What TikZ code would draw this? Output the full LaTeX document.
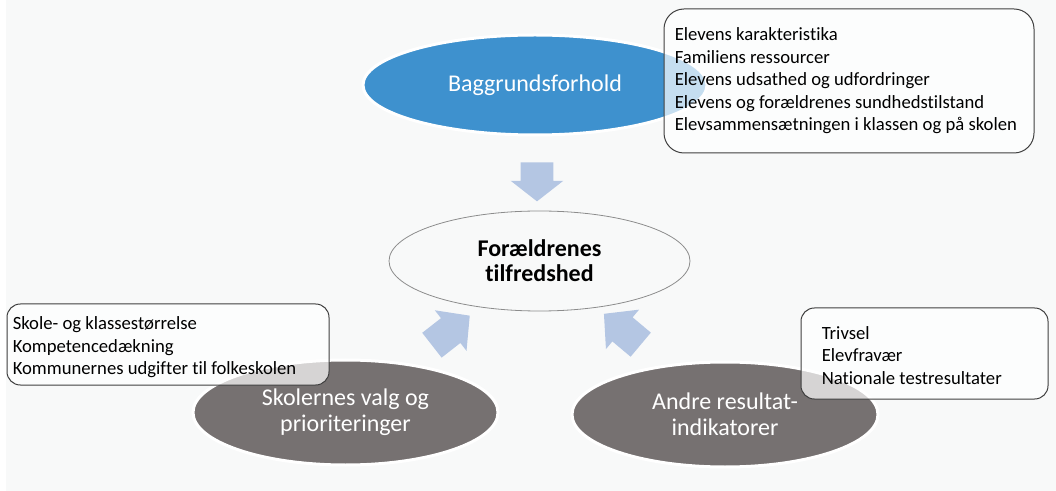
\documentclass[tikz,border=0pt]{standalone}
\usepackage{fontspec}
\setmainfont{Carlito}[Ligatures=NoCommon]
\usetikzlibrary{shapes.geometric,shapes.arrows}

\definecolor{pagegrey}{HTML}{F8F9F9}
\definecolor{factorblue}{HTML}{3E91CE}
\definecolor{factorgrey}{HTML}{767171}
\definecolor{arrowblue}{HTML}{B4C6E3}
\definecolor{boxline}{HTML}{404040}
\definecolor{ringgrey}{HTML}{8C8C8C}

\begin{document}
\begin{tikzpicture}[x=0.75pt,y=-0.75pt,
  factor/.style={ellipse,draw=white,line width=2.25pt,text=white,inner sep=0pt,
    align=center,font=\fontsize{18}{19.5}\selectfont},
  infobox/.style={draw=boxline,line width=0.75pt,fill=white,fill opacity=0.7},
  infotext/.style={anchor=west,inner sep=0pt,align=left,
    font=\fontsize{14}{16.9}\selectfont},
  bigarrow/.style={single arrow,fill=arrowblue,inner xsep=0pt,
    single arrow head extend=7.5pt}]
\useasboundingbox (0,0) rectangle (1056,491);
\fill[pagegrey] (0,0) rectangle (1056,491);
\fill[white] (0,0) rectangle (6,491);

% the four factors
\node[factor,fill=factorblue,minimum width=258pt,minimum height=75pt]
  (bagg) at (535,85) {Baggrundsforhold};
\node[ellipse,draw=ringgrey,line width=0.6pt,minimum width=225.75pt,
  minimum height=75pt,inner sep=0pt,align=center,
  font=\fontsize{18}{19}\selectfont\bfseries]
  (tilf) at (539.5,261) {Forældrenes\\tilfredshed};
\node[factor,fill=factorgrey,minimum width=228.75pt,minimum height=78.75pt]
  (skole) at (345.5,412.5) {Skolernes valg og\\prioriteringer};
\node[factor,fill=factorgrey,minimum width=229.5pt,minimum height=78.75pt]
  (andre) at (725,414.5) {Andre resultat-\\indikatorer};

% block arrows towards the middle
\node[bigarrow,rotate=-90,inner ysep=12pt,minimum height=29.25pt,
  single arrow tip angle=104] (pilbagg) at (537,175.5) {};
\node[bigarrow,rotate=38,inner ysep=11.6pt,minimum height=36pt,
  single arrow tip angle=93.5] (pilskole) at (445,335) {};
\node[bigarrow,rotate=140,inner ysep=11.6pt,minimum height=36pt,
  single arrow tip angle=93.5] (pilandre) at (628,334) {};

% lists
\node[infobox,rounded corners=15pt,minimum width=277.5pt,minimum height=108pt]
  (baggbox) at (849,81) {};
\node[infotext] (baggtext) at ([xshift=8.25pt]baggbox.west)
  {Elevens karakteristika\\Familiens ressourcer\\Elevens udsathed og udfordringer\\
   Elevens og forældrenes sundhedstilstand\\Elevsammensætningen i klassen og på skolen};
\node[infobox,rounded corners=10pt,minimum width=241.5pt,minimum height=60.75pt]
  (skolebox) at (168,344.5) {};
\node[infotext] (skoletext) at ([xshift=4.5pt,yshift=-2.25pt]skolebox.west)
  {Skole- og klassestørrelse\\Kompetencedækning\\Kommunernes udgifter til folkeskolen};
\node[infobox,rounded corners=10pt,minimum width=185.25pt,minimum height=68.25pt]
  (andrebox) at (924.5,353.5) {};
\node[infotext] (andretext) at ([xshift=15.75pt,yshift=-1.5pt]andrebox.west)
  {Trivsel\\Elevfravær\\Nationale testresultater};
\end{tikzpicture}
\end{document}
